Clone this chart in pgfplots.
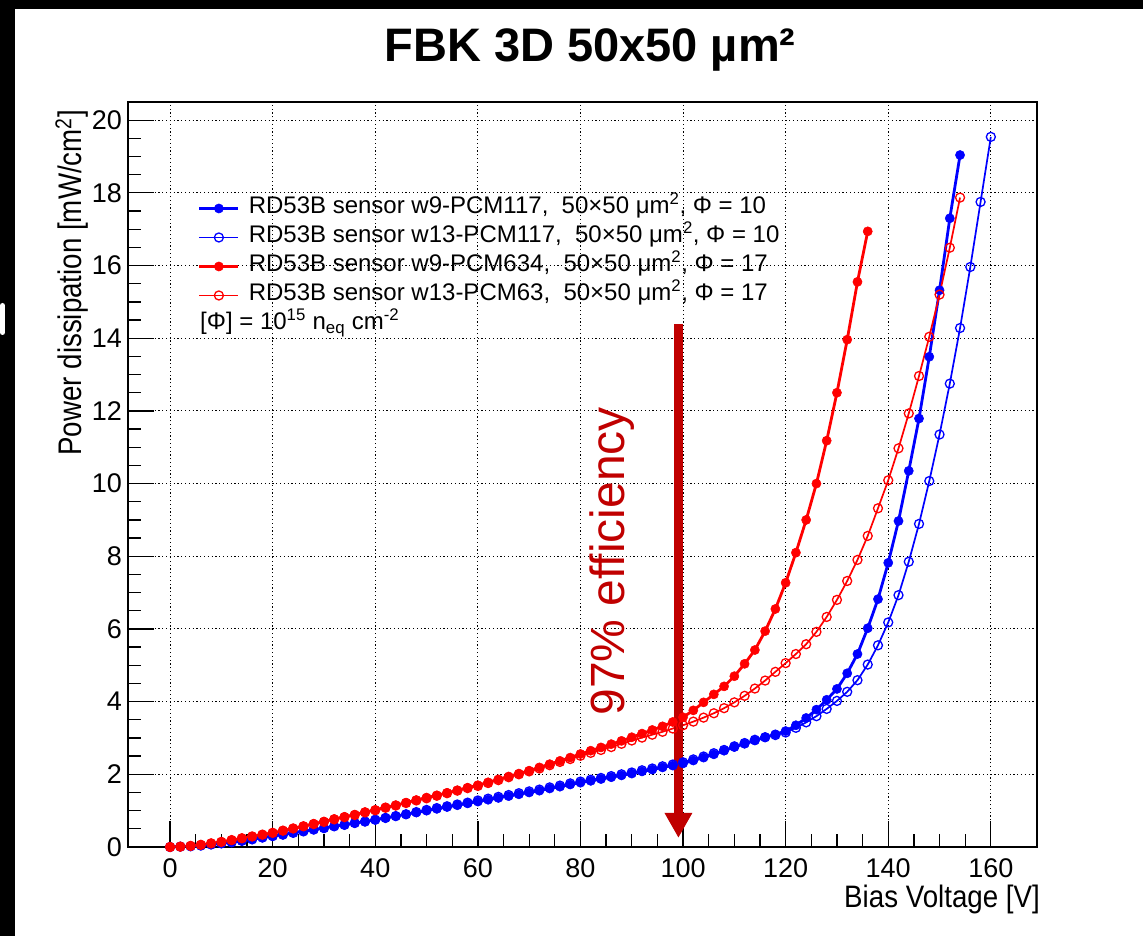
\documentclass[border=0pt]{standalone}
\usepackage{fontspec}
\setmainfont{Liberation Sans}
\usepackage{graphicx}
\usepackage{pgfplots}
\pgfplotsset{compat=1.18}
\usetikzlibrary{arrows.meta}

\definecolor{rootblue}{RGB}{0,0,255}
\definecolor{rootred}{RGB}{255,0,0}
\definecolor{darkred}{RGB}{192,0,0}

\begin{document}
\begin{tikzpicture}
\begin{axis}[
    at={(0pt,0pt)}, anchor=south west,
    scale only axis,
    width=909pt, height=745pt,
    xmin=-8.2, xmax=169, ymin=0, ymax=20.5,
    xtick={0,20,...,160}, ytick={0,2,...,20},
    minor x tick num=3, minor y tick num=3,
    tick align=inside, tick pos=left,
    major tick length=26pt, minor tick length=13pt,
    tick style={black, line width=1.3pt},
    axis line style={black, line width=1.6pt},
    grid=major,
    major grid style={black, line width=1pt, dash pattern=on 1.2pt off 2.6pt},
    /pgf/number format/assume math mode=true,
    ticklabel style={font=\fontsize{27}{32}\selectfont},
    xticklabel style={inner sep=0pt, anchor=north, yshift=-11pt},
    yticklabel style={inner sep=0pt, anchor=east, xshift=-6pt},
    legend style={
        at={(rel axis cs:0.077,0.8725)}, anchor=north west,
        draw=none, fill=none, inner sep=0pt, outer sep=0pt,
        font=\fontsize{24}{28}\selectfont,
        row sep=6pt,
        nodes={inner sep=0pt, text height=17pt, text depth=6pt},
        /tikz/every odd column/.style={column sep=9pt},
    },
    legend cell align=left,
    legend image code/.code={\draw[mark repeat=2,mark phase=2,#1]
        plot coordinates {(0pt,0pt) (19.5pt,0pt) (39pt,0pt)};},
]

% w9-PCM117, Phi = 10
\addplot[rootblue, line width=2.8pt, mark=*, mark size=4.6pt,
    mark options={solid, line width=0.5pt}] coordinates {
(0,0.00) (2,0.01) (4,0.02) (6,0.04) (8,0.07) (10,0.10) (12,0.13) (14,0.17)
(16,0.21) (18,0.26) (20,0.30) (22,0.34) (24,0.39) (26,0.43) (28,0.48) (30,0.52)
(32,0.57) (34,0.61) (36,0.66) (38,0.70) (40,0.75) (42,0.80) (44,0.85) (46,0.90)
(48,0.95) (50,1.00) (52,1.05) (54,1.10) (56,1.15) (58,1.20) (60,1.25) (62,1.30)
(64,1.35) (66,1.40) (68,1.45) (70,1.50) (72,1.55) (74,1.61) (76,1.66) (78,1.72)
(80,1.77) (82,1.82) (84,1.87) (86,1.92) (88,1.97) (90,2.02) (92,2.08) (94,2.13)
(96,2.19) (98,2.24) (100,2.30) (102,2.38) (104,2.46) (106,2.55) (108,2.65) (110,2.75)
(112,2.84) (114,2.93) (116,3.02) (118,3.10) (120,3.19) (122,3.35) (124,3.55) (126,3.78)
(128,4.05) (130,4.35) (132,4.78) (134,5.31) (136,6.02) (138,6.82) (140,7.82) (142,8.97)
(144,10.35) (146,11.79) (148,13.49) (150,15.32) (152,17.30) (154,19.04)
};
\addlegendentry{RD53B sensor w9-PCM117,~~50×50 μm\textsuperscript{2}, Φ = 10}

% w13-PCM117, Phi = 10
\addplot[rootblue, line width=1.7pt, mark=o, mark size=4.5pt,
    mark options={solid, line width=1.3pt}] coordinates {
(0,0.00) (2,0.01) (4,0.02) (6,0.04) (8,0.07) (10,0.10) (12,0.13) (14,0.17)
(16,0.21) (18,0.26) (20,0.30) (22,0.34) (24,0.39) (26,0.43) (28,0.48) (30,0.52)
(32,0.57) (34,0.61) (36,0.66) (38,0.70) (40,0.75) (42,0.80) (44,0.85) (46,0.90)
(48,0.96) (50,1.02) (52,1.07) (54,1.12) (56,1.17) (58,1.22) (60,1.28) (62,1.33)
(64,1.38) (66,1.43) (68,1.48) (70,1.53) (72,1.58) (74,1.64) (76,1.69) (78,1.75)
(80,1.80) (82,1.85) (84,1.90) (86,1.95) (88,2.00) (90,2.05) (92,2.11) (94,2.16)
(96,2.22) (98,2.27) (100,2.33) (102,2.41) (104,2.49) (106,2.58) (108,2.67) (110,2.77)
(112,2.86) (114,2.95) (116,3.02) (118,3.08) (120,3.15) (122,3.28) (124,3.43) (126,3.60)
(128,3.80) (130,4.02) (132,4.27) (134,4.59) (136,5.02) (138,5.55) (140,6.18) (142,6.93)
(144,7.85) (146,8.89) (148,10.07) (150,11.35) (152,12.75) (154,14.28) (156,15.96) (158,17.75)
(160,19.54)
};
\addlegendentry{RD53B sensor w13-PCM117,~~50×50 μm\textsuperscript{2}, Φ = 10}

% w9-PCM634, Phi = 17
\addplot[rootred, line width=2.8pt, mark=*, mark size=4.6pt,
    mark options={solid, line width=0.5pt}] coordinates {
(0,0.00) (2,0.01) (4,0.03) (6,0.06) (8,0.10) (10,0.14) (12,0.19) (14,0.24)
(16,0.29) (18,0.34) (20,0.39) (22,0.45) (24,0.51) (26,0.57) (28,0.64) (30,0.70)
(32,0.77) (34,0.83) (36,0.89) (38,0.96) (40,1.02) (42,1.09) (44,1.15) (46,1.22)
(48,1.29) (50,1.36) (52,1.42) (54,1.49) (56,1.56) (58,1.63) (60,1.70) (62,1.78)
(64,1.86) (66,1.94) (68,2.02) (70,2.10) (72,2.19) (74,2.28) (76,2.37) (78,2.46)
(80,2.56) (82,2.65) (84,2.74) (86,2.83) (88,2.92) (90,3.02) (92,3.12) (94,3.22)
(96,3.32) (98,3.44) (100,3.57) (102,3.76) (104,3.98) (106,4.20) (108,4.42) (110,4.70)
(112,5.04) (114,5.42) (116,5.94) (118,6.55) (120,7.27) (122,8.10) (124,9.00) (126,10.00)
(128,11.18) (130,12.50) (132,13.96) (134,15.55) (136,16.94)
};
\addlegendentry{RD53B sensor w9-PCM634,~~50×50 μm\textsuperscript{2}, Φ = 17}

% w13-PCM63, Phi = 17
\addplot[rootred, line width=1.7pt, mark=o, mark size=4.5pt,
    mark options={solid, line width=1.3pt}] coordinates {
(0,0.00) (2,0.01) (4,0.03) (6,0.06) (8,0.10) (10,0.14) (12,0.19) (14,0.24)
(16,0.29) (18,0.34) (20,0.39) (22,0.45) (24,0.51) (26,0.57) (28,0.63) (30,0.69)
(32,0.76) (34,0.82) (36,0.88) (38,0.95) (40,1.01) (42,1.08) (44,1.14) (46,1.21)
(48,1.28) (50,1.34) (52,1.41) (54,1.48) (56,1.55) (58,1.62) (60,1.68) (62,1.76)
(64,1.84) (66,1.92) (68,2.00) (70,2.08) (72,2.16) (74,2.25) (76,2.34) (78,2.42)
(80,2.51) (82,2.59) (84,2.67) (86,2.75) (88,2.84) (90,2.93) (92,3.01) (94,3.09)
(96,3.17) (98,3.26) (100,3.35) (102,3.45) (104,3.56) (106,3.68) (108,3.82) (110,3.98)
(112,4.16) (114,4.36) (116,4.58) (118,4.82) (120,5.06) (122,5.31) (124,5.58) (126,5.92)
(128,6.33) (130,6.80) (132,7.32) (134,7.90) (136,8.56) (138,9.32) (140,10.09) (142,10.97)
(144,11.93) (146,12.96) (148,14.04) (150,15.20) (152,16.49) (154,17.87)
};
\addlegendentry{RD53B sensor w13-PCM63,~~50×50 μm\textsuperscript{2}, Φ = 17}

% 97% efficiency marker
\draw[darkred, line width=8.5pt, -{Triangle[width=26pt,length=25pt]}]
    (axis cs:99.1,14.38) -- (axis cs:99.1,0.25);
\node[rotate=90, anchor=base, inner sep=0pt, text=darkred,
    font=\fontsize{48}{56}\selectfont] at (axis cs:88.6,7.86) {97\% efficiency};

\end{axis}

% fluence unit line under the legend
\node[anchor=base west, inner sep=0pt, font=\fontsize{24}{28}\selectfont]
    at (72pt,517pt) {[Φ] = 10\textsuperscript{15} n\textsubscript{eq} cm\textsuperscript{-2}};

% axis titles
\node[anchor=base east, inner sep=0pt, font=\fontsize{27.7}{33}\selectfont]
    at (912pt,-61pt) {\scalebox{1}[1.12]{Bias Voltage [V]}};
\node[rotate=90, anchor=base east, inner sep=0pt, font=\fontsize{27.7}{33}\selectfont]
    at (-46pt,737pt) {\scalebox{1}[1.18]{Power dissipation [mW/cm\textsuperscript{2}]}};

% title
\node[anchor=base, inner sep=0pt, font=\fontsize{47}{56}\selectfont\bfseries]
    at (462pt,785pt) {FBK 3D 50x50 µm²};

% black frame left over from the screen grab
\fill[black] (-128pt,-89pt) rectangle (-113pt,847pt);
\fill[black] (-128pt,838pt) rectangle (1015pt,847pt);
\fill[white, rounded corners=2.5pt] (-128pt,512pt) -- (-128pt,544pt) -- (-123pt,544pt) -- (-123pt,512pt) -- cycle;

\pgfresetboundingbox
\useasboundingbox (-128pt,-89pt) rectangle (1015pt,847pt);
\end{tikzpicture}
\end{document}
